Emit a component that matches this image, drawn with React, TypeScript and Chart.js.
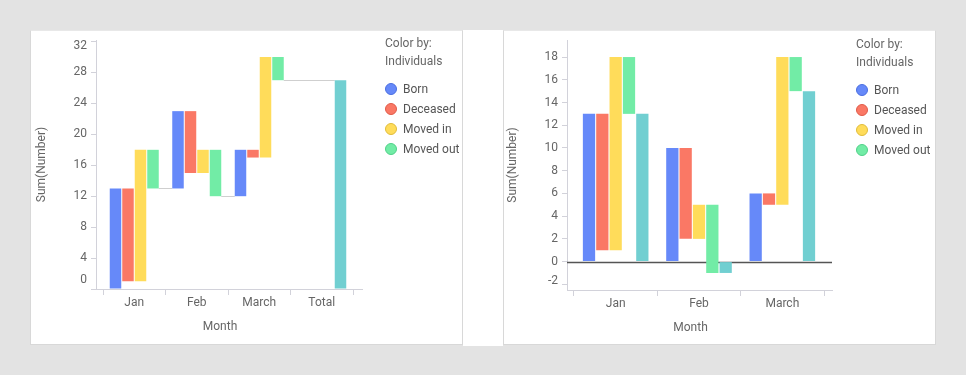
import React, { useEffect, useRef } from 'react';
import { Chart, registerables } from 'chart.js';

Chart.register(...registerables);

// ---- data ----
const months = ['Jan', 'Feb', 'March'];
const totalLabel = 'Total';
const seriesNames = ['Born', 'Deceased', 'Moved in', 'Moved out'];
const born = [13, 10, 6];
const deceased = [12, 8, 1];
const movedIn = [17, 3, 13];
const movedOut = [5, 6, 3];
const leftTickValues = [0, 4, 8, 12, 16, 20, 24, 28, 32];
const rightTickValues = [-2, 0, 2, 4, 6, 8, 10, 12, 14, 16, 18];

// ---- styles ----
const C = {
  born: '#6689f9',
  deceased: '#fa7865',
  movedIn: '#ffdc5a',
  movedOut: '#72eca6',
  net: '#71cfd1',
};
const legendColors = [C.born, C.deceased, C.movedIn, C.movedOut];
const legendBorders = ['#4a6ee0', '#e05a48', '#e0bc3a', '#50d088'];
const AXIS = '#d2d2da';
const TXT = '#666666';
const FONT_FAMILY = 'Roboto, "Noto Sans", sans-serif';
const FONT = { family: FONT_FAMILY, size: 12 };

type Range = [number, number] | null;

function buildWaterfall(cumulative: boolean) {
  let run = 0;
  const b: Range[] = [], d: Range[] = [], mi: Range[] = [], mo: Range[] = [], net: Range[] = [];
  const ends: number[] = [];
  for (let i = 0; i < months.length; i++) {
    const s0 = cumulative ? run : 0;
    const s1 = s0 + born[i];
    const s2 = s1 - deceased[i];
    const s3 = s2 + movedIn[i];
    const s4 = s3 - movedOut[i];
    b.push([s0, s1]);
    d.push([s1, s2]);
    mi.push([s2, s3]);
    mo.push([s3, s4]);
    net.push([0, s4]);
    run = s4;
    ends.push(s4);
  }
  return { b, d, mi, mo, net, ends, total: run };
}

function yLabelsPlugin(id: string) {
  return {
    id,
    afterDraw(chart: any) {
      const ys = chart.scales.y;
      const { ctx, chartArea } = chart;
      ctx.save();
      ctx.font = `12px ${FONT_FAMILY}`;
      ctx.fillStyle = TXT;
      ctx.textAlign = 'right';
      ctx.textBaseline = 'middle';
      for (const t of ys.ticks) {
        let y = ys.getPixelForValue(t.value);
        y = Math.max(chartArea.top + 6, Math.min(chartArea.bottom - 9.5, y));
        ctx.fillText(String(t.value), ys.right - 9, y);
      }
      // x axis title
      ctx.textAlign = 'center';
      ctx.fillText('Month', (chartArea.left + chartArea.right) / 2 - 9, chartArea.bottom + 38);
      ctx.restore();
    },
  };
}

function xScale(padL: number, padR: number, height: number) {
  return {
    type: 'category',
    offset: true,
    afterBuildTicks: (s: any) => {
      s._startValue -= padL;
      s._valueRange += padL + padR;
    },
    afterFit: (s: any) => {
      s.height = height;
    },
    grid: { offset: true, drawOnChartArea: false, drawTicks: true, tickLength: 6, color: AXIS },
    border: { color: AXIS },
    ticks: { color: TXT, font: FONT, padding: 1, maxRotation: 0, autoSkip: false },
  };
}

function yScale(min: number, max: number, ticks: number[], width: number, titlePad: number) {
  return {
    type: 'linear',
    min,
    max,
    afterBuildTicks: (s: any) => {
      s.ticks = ticks.map((v) => ({ value: v }));
    },
    afterFit: (s: any) => {
      s.width = width;
    },
    ticks: { display: false },
    grid: { drawOnChartArea: false, drawTicks: true, tickLength: 5, color: AXIS },
    border: { color: AXIS },
    title: {
      display: true,
      text: 'Sum(Number)',
      color: TXT,
      font: FONT,
      padding: { top: titlePad, bottom: 0 },
    },
  };
}

function leftConfig(): any {
  const wf = buildWaterfall(true);
  const labels = [...months, totalLabel];
  const moColors = months.map(() => C.movedOut).concat(C.net);
  const connectors = {
    id: 'connectors',
    beforeDatasetsDraw(chart: any) {
      const { ctx } = chart;
      const ys = chart.scales.y;
      const bornMeta = chart.getDatasetMeta(0);
      const moMeta = chart.getDatasetMeta(3);
      ctx.save();
      ctx.strokeStyle = '#cfcfcf';
      ctx.lineWidth = 1;
      for (let i = 0; i < months.length; i++) {
        const from = moMeta.data[i];
        const to = i < months.length - 1 ? bornMeta.data[i + 1] : moMeta.data[months.length];
        const y = Math.round(ys.getPixelForValue(wf.ends[i])) + 0.5;
        ctx.beginPath();
        ctx.moveTo(from.x + from.width / 2, y);
        ctx.lineTo(to.x - to.width / 2, y);
        ctx.stroke();
      }
      ctx.restore();
    },
  };
  return {
    type: 'bar',
    data: {
      labels,
      datasets: [
        { label: seriesNames[0], data: [...wf.b, null], backgroundColor: C.born },
        { label: seriesNames[1], data: [...wf.d, null], backgroundColor: C.deceased },
        { label: seriesNames[2], data: [...wf.mi, null], backgroundColor: C.movedIn },
        { label: seriesNames[3], data: [...wf.mo, [0, wf.total]], backgroundColor: moColors },
      ],
    },
    options: {
      responsive: false,
      maintainAspectRatio: false,
      animation: false,
      layout: { padding: { left: 0, top: 10, right: 100, bottom: 0 } },
      datasets: { bar: { categoryPercentage: 0.8, barPercentage: 0.92, borderWidth: 0 } },
      plugins: { legend: { display: false }, tooltip: { enabled: false } },
      scales: {
        x: xScale(0.112, 0.144, 55),
        y: yScale(0, 32.2, leftTickValues, 66, 5),
      },
    },
    plugins: [connectors, yLabelsPlugin('ylabL')],
  };
}

function rightConfig(): any {
  const wf = buildWaterfall(false);
  const zeroLine = {
    id: 'zeroLine',
    beforeDatasetsDraw(chart: any) {
      const { ctx, chartArea } = chart;
      const y = Math.round(chart.scales.y.getPixelForValue(0)) + 0.5;
      ctx.save();
      ctx.strokeStyle = '#555555';
      ctx.lineWidth = 1.3;
      ctx.beginPath();
      ctx.moveTo(chartArea.left, y);
      ctx.lineTo(chartArea.right, y);
      ctx.stroke();
      ctx.restore();
    },
  };
  return {
    type: 'bar',
    data: {
      labels: months,
      datasets: [
        { label: seriesNames[0], data: wf.b, backgroundColor: C.born },
        { label: seriesNames[1], data: wf.d, backgroundColor: C.deceased },
        { label: seriesNames[2], data: wf.mi, backgroundColor: C.movedIn },
        { label: seriesNames[3], data: wf.mo, backgroundColor: C.movedOut },
        { label: 'Net', data: wf.net, backgroundColor: C.net },
      ],
    },
    options: {
      responsive: false,
      maintainAspectRatio: false,
      animation: false,
      layout: { padding: { left: 0, top: 10, right: 103, bottom: 0 } },
      datasets: { bar: { categoryPercentage: 0.8, barPercentage: 0.92, borderWidth: 0 } },
      plugins: { legend: { display: false }, tooltip: { enabled: false } },
      scales: {
        x: xScale(0.084, 0.096, 54),
        y: yScale(-2.5, 19.5, rightTickValues, 64, 3),
      },
    },
    plugins: [zeroLine, yLabelsPlugin('ylabR')],
  };
}

function ChartCanvas(props: { make: () => any; left: number; top: number; width: number; height: number }) {
  const ref = useRef<HTMLCanvasElement>(null);
  useEffect(() => {
    const chart = new Chart(ref.current as HTMLCanvasElement, props.make());
    return () => chart.destroy();
  }, []);
  return (
    <canvas
      ref={ref}
      width={props.width}
      height={props.height}
      style={{ position: 'absolute', left: props.left, top: props.top, width: props.width, height: props.height }}
    />
  );
}

function Legend(props: { x: number; y: number }) {
  const { x, y } = props;
  const base: React.CSSProperties = {
    position: 'absolute',
    fontFamily: FONT_FAMILY,
    fontSize: 12,
    lineHeight: '14px',
    whiteSpace: 'nowrap',
  };
  return (
    <>
      <div style={{ ...base, left: x, top: y - 7, color: TXT }}>Color by:</div>
      <div style={{ ...base, left: x, top: y + 11, color: TXT }}>Individuals</div>
      {seriesNames.map((name, i) => {
        const cy = y + 46 + i * 20;
        return (
          <React.Fragment key={name}>
            <div
              style={{
                position: 'absolute',
                left: x,
                top: cy - 6,
                width: 12,
                height: 12,
                boxSizing: 'border-box',
                borderRadius: '50%',
                background: legendColors[i],
                border: `1px solid ${legendBorders[i]}`,
              }}
            />
            <div style={{ ...base, left: x + 18, top: cy - 7, color: '#555555' }}>{name}</div>
          </React.Fragment>
        );
      })}
    </>
  );
}

export default function App() {
  return (
    <div style={{ position: 'fixed', left: 0, top: 0, width: 966, height: 375, background: '#e3e3e3', overflow: 'hidden' }}>
      <div style={{ position: 'absolute', left: 30, top: 30, width: 433, height: 315, boxSizing: 'border-box', background: '#fff', border: '1px solid #d8d8d8', borderTopColor: '#e8e8e8' }} />
      <div style={{ position: 'absolute', left: 463, top: 30, width: 40, height: 316, background: '#fff' }} />
      <div style={{ position: 'absolute', left: 503, top: 30, width: 433, height: 315, boxSizing: 'border-box', background: '#fff', border: '1px solid #d8d8d8', borderTopColor: '#e8e8e8' }} />
      <ChartCanvas make={leftConfig} left={30} top={30} width={432} height={314} />
      <ChartCanvas make={rightConfig} left={503} top={30} width={432} height={314} />
      <Legend x={385} y={43} />
      <Legend x={856} y={44} />
    </div>
  );
}
